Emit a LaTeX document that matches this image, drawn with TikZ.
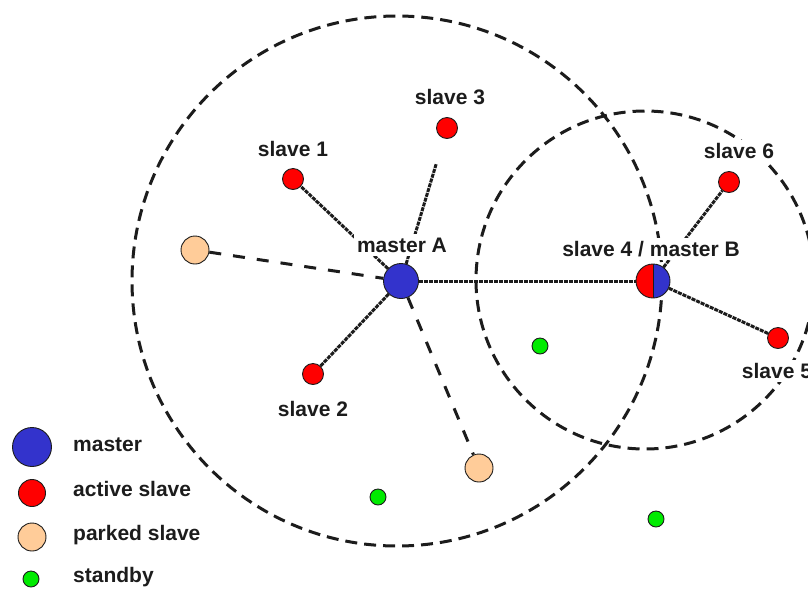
\documentclass[tikz,border=0pt]{standalone}
\usepackage{fontspec}
\setmainfont{Liberation Sans}
\usetikzlibrary{backgrounds}
\definecolor{mblue}{RGB}{51,51,204}
\definecolor{sred}{RGB}{255,0,0}
\definecolor{parked}{RGB}{255,204,153}
\definecolor{sgreen}{RGB}{0,235,0}
\definecolor{ink}{RGB}{28,28,28}
\begin{document}
\begin{tikzpicture}[x=1pt,y=-1pt,
  dev/.style={circle,draw=ink,line width=0.9pt,inner sep=0pt},
  masterdev/.style={dev,fill=mblue,minimum size=35pt},
  activedev/.style={dev,fill=sred,minimum size=21pt},
  parkeddev/.style={dev,fill=parked,minimum size=28pt},
  standbydev/.style={dev,fill=sgreen,minimum size=16pt},
  tag/.style={font=\fontsize{21}{24}\selectfont\bfseries,text=ink,fill=white,inner sep=3.5pt},
  legendtag/.style={font=\fontsize{21}{24}\selectfont\bfseries,text=ink,inner sep=0pt,anchor=mid west},
  rangeline/.style={draw=ink,line width=3pt,dash pattern=on 12pt off 7pt},
  activelink/.style={draw=ink,line width=3pt,dash pattern=on 4pt off 1pt},
  parkedlink/.style={draw=ink,line width=3pt,dash pattern=on 12pt off 12pt},
]
\useasboundingbox (0,0) rectangle (808,590);

% piconet A
\node[masterdev] (mA) at (401,281) {};
\node[tag] (mAtag) at (402,245) {master A};
\node[activedev] (s1) at (293,179) {};
\node[tag] (s1tag) at (293,149) {slave 1};
\node[activedev] (s2) at (313,374) {};
\node[tag] (s2tag) at (313,409) {slave 2};
\node[activedev] (s3) at (447,128) {};
\node[tag] (s3tag) at (450,97) {slave 3};
\node[parkeddev] (p1) at (195,250) {};
\node[parkeddev] (p2) at (479,468) {};

% bridge node: slave 4 in A, master of B
\node[dev,minimum size=34pt,
  path picture={
    \fill[sred] (path picture bounding box.south west) rectangle (path picture bounding box.north);
    \fill[mblue] (path picture bounding box.south) rectangle (path picture bounding box.north east);
    \draw[ink,line width=0.9pt] (path picture bounding box.south) -- (path picture bounding box.north);
  }] (s4) at (653,281) {};
\node[tag] (s4tag) at (651,249) {slave 4 / master B};

% piconet B
\node[activedev] (s6) at (729,182) {};
\node[tag] (s6tag) at (739,151) {slave 6};
\node[activedev] (s5) at (778,338) {};
\node[tag] (s5tag) at (777,371) {slave 5};

% standby units
\node[standbydev] (sb1) at (540,346) {};
\node[standbydev] (sb2) at (378,497) {};
\node[standbydev] (sb3) at (656,519) {};

% legend
\node[masterdev,minimum size=39pt] (lgm) at (32,447) {};
\node[legendtag] (lgmtag) at (73,449) {master};
\node[activedev,minimum size=27pt] (lga) at (32,493) {};
\node[legendtag] (lgatag) at (73,494) {active slave};
\node[parkeddev] (lgp) at (32,537) {};
\node[legendtag] (lgptag) at (73,538) {parked slave};
\node[standbydev] (lgs) at (31,579) {};
\node[legendtag] (lgstag) at (73,580) {standby};

\begin{pgfonlayer}{background}
  % coverage ranges of the two piconets
  \coordinate (cA) at (397,281);
  \coordinate (cB) at (645,280);
  \draw[rangeline] (cA) circle[radius=265pt];
  \draw[rangeline] (cB) circle[radius=169pt];
  % links
  \draw[activelink] (mA) -- (s1);
  \draw[activelink] (mA) -- (s2);
  \draw[activelink,shorten >=26pt] (mA) -- (s3);
  \draw[activelink] (mA) -- (s4);
  \draw[activelink] (s4) -- (s6);
  \draw[activelink] (s4) -- (s5);
  \draw[parkedlink] (p1) -- (mA);
  \draw[parkedlink] (mA) -- (p2);
\end{pgfonlayer}
\end{tikzpicture}
\end{document}
